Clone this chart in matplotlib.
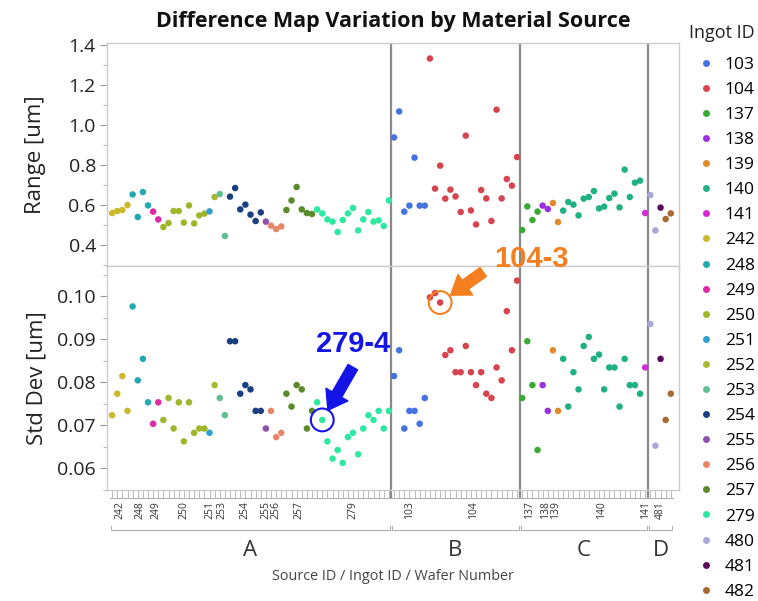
import matplotlib.pyplot as plt
import numpy as np
from matplotlib.lines import Line2D

plt.rcParams['font.family'] = ['Open Sans', 'DejaVu Sans']

# ===== Daten (Reihenfolge wie auf der x-Achse) =====
ingots = ['242', '248', '249', '250', '251', '252', '253', '254', '255', '256', '257', '279',
          '103', '104', '137', '138', '139', '140', '141', '480', '481', '482']
n_wafers = [4, 4, 2, 9, 1, 1, 2, 7, 1, 3, 6, 15, 7, 18, 4, 2, 2, 16, 1, 2, 1, 2]
source_ids = ['A'] * 12 + ['B'] * 2 + ['C'] * 5 + ['D'] * 3
colors = ['#c9b92c', '#22a9b2', '#dd2aa5', '#9fb52b', '#2f9fd0', '#a9b832', '#5fbf90',
          '#1a3f80', '#9050b0', '#e8866a', '#5a8a2a', '#2ee8a2',
          '#4472e0', '#d5444f', '#3aaa35', '#9b30e0', '#e08a2c', '#20b083', '#d52ad5',
          '#a8a8d8', '#5a0a5a', '#a86a30']
hidden_labels = ['252', '480', '482']

range_um = [
    0.56, 0.57, 0.575, 0.60,                      # 242
    0.653, 0.54, 0.665, 0.598,                    # 248
    0.567, 0.528,                                 # 249
    0.49, 0.51, 0.57, 0.57, 0.512, 0.598, 0.508, 0.548, 0.557,  # 250
    0.568,                                        # 251
    0.64,                                         # 252
    0.655, 0.445,                                 # 253
    0.642, 0.685, 0.578, 0.602, 0.552, 0.52, 0.563,  # 254
    0.517,                                        # 255
    0.497, 0.48, 0.493,                           # 256
    0.575, 0.623, 0.69, 0.578, 0.56, 0.555,       # 257
    0.578, 0.558, 0.528, 0.517, 0.465, 0.525, 0.558, 0.585, 0.473, 0.528,
    0.565, 0.517, 0.523, 0.495, 0.623,            # 279
    0.938, 1.068, 0.567, 0.597, 0.837, 0.597, 0.597,  # 103
    1.333, 0.682, 0.797, 0.632, 0.677, 0.643, 0.565, 0.947, 0.573, 0.503,
    0.675, 0.633, 0.52, 1.077, 0.633, 0.73, 0.697, 0.84,  # 104
    0.475, 0.593, 0.525, 0.567,                   # 137
    0.597, 0.58,                                  # 138
    0.61, 0.515,                                  # 139
    0.572, 0.615, 0.602, 0.548, 0.632, 0.64, 0.67, 0.583, 0.592, 0.635,
    0.657, 0.588, 0.777, 0.64, 0.712, 0.722,      # 140
    0.56,                                         # 141
    0.65, 0.473,                                  # 480
    0.587,                                        # 481
    0.53, 0.558,                                  # 482
]

std_um = [
    0.0723, 0.0773, 0.0814, 0.0733,               # 242
    0.0976, 0.0804, 0.0854, 0.0753,               # 248
    0.0703, 0.0753,                               # 249
    0.0712, 0.0763, 0.0692, 0.0753, 0.0662, 0.0753, 0.0682, 0.0692, 0.0692,  # 250
    0.0682,                                       # 251
    0.0793,                                       # 252
    0.0763, 0.0723,                               # 253
    0.0895, 0.0895, 0.0773, 0.0793, 0.0783, 0.0733, 0.0733,  # 254
    0.0692,                                       # 255
    0.0733, 0.0672, 0.0682,                       # 256
    0.0773, 0.0743, 0.0793, 0.0783, 0.0692, 0.0733,  # 257
    0.0753, 0.0712, 0.0662, 0.0622, 0.0642, 0.0612, 0.0672, 0.0682, 0.0632, 0.0692,
    0.0723, 0.0712, 0.0733, 0.0692, 0.0733,       # 279
    0.0814, 0.0874, 0.0692, 0.0733, 0.0733, 0.0703, 0.0763,  # 103
    0.0997, 0.1007, 0.0985, 0.0863, 0.0874, 0.0823, 0.0823, 0.0884, 0.0823, 0.0793,
    0.0823, 0.0773, 0.0763, 0.0834, 0.0804, 0.0965, 0.0874, 0.1036,  # 104
    0.0763, 0.0895, 0.0793, 0.0642,               # 137
    0.0793, 0.0733,                               # 138
    0.0874, 0.0733,                               # 139
    0.0854, 0.0743, 0.0823, 0.0783, 0.0884, 0.0905, 0.0854, 0.0864, 0.0783, 0.0834,
    0.0834, 0.0743, 0.0854, 0.0793, 0.0793, 0.0773,  # 140
    0.0834,                                       # 141
    0.0935, 0.0652,                               # 480
    0.0854,                                       # 481
    0.0712, 0.0773,                               # 482
]

# hervorgehobene Wafer: (Ingot, Position innerhalb des Ingots, Label, Farbe)
highlights = [('279', 1, '279-4', '#1414e6'), ('104', 2, '104-3', '#f57f1f')]

# ===== Positionen =====
starts = np.concatenate([[0], np.cumsum(n_wafers)[:-1]])
N = int(np.sum(n_wafers))
idx = np.arange(N)
range_um = np.array(range_um)
std_um = np.array(std_um)

# ===== Figur =====
W, H = 758, 601
fig = plt.figure(figsize=(W / 100, H / 100), dpi=100)
L, R = 107 / W, 679 / W
ax1 = fig.add_axes([L, 1 - 266 / H, R - L, (266 - 42.7) / H])
ax2 = fig.add_axes([L, 1 - 490 / H, R - L, (490 - 266) / H])
ax_h = 490 - 266

for ax, vals in [(ax1, range_um), (ax2, std_um)]:
    for s, n, c in zip(starts, n_wafers, colors):
        ax.scatter(idx[s:s + n], vals[s:s + n], s=22, color=c, edgecolors='none', zorder=3)
    ax.set_xlim(-1.0, N + 0.6)
    for sp in ax.spines.values():
        sp.set_color('#cccccc')
        sp.set_linewidth(1.0)
    ax.tick_params(axis='y', which='major', labelsize=14, length=5, color='#999999',
                   labelcolor='#222222', pad=3)
    ax.tick_params(axis='y', which='minor', length=3, color='#aaaaaa')

# Quellen-Trennlinien
src_order = ['A', 'B', 'C', 'D']
src_first = [min(s for s, sid in zip(starts, source_ids) if sid == k) for k in src_order]
src_last = [max(s + n - 1 for s, n, sid in zip(starts, n_wafers, source_ids) if sid == k)
            for k in src_order]
for b in src_first[1:]:
    ax1.axvline(b - 0.5, color='#8a8a8a', lw=1.6, zorder=2)
    ax2.plot([b - 0.5, b - 0.5], [-8 / ax_h, 1], color='#8a8a8a', lw=1.6, zorder=2,
             transform=ax2.get_xaxis_transform(), clip_on=False)

ax1.set_ylim(0.295, 1.412)
ax1.set_yticks(np.arange(0.4, 1.41, 0.2))
ax1.set_yticklabels([f'{v:.1f}' for v in np.arange(0.4, 1.41, 0.2)])
ax1.set_yticks(np.arange(0.3, 1.41, 0.1), minor=True)
ax1.set_xticks([])
ax1.set_ylabel('Range [um]', fontsize=16, color='#222222', labelpad=16)

ax2.set_ylim(0.0549, 0.107)
ax2.set_yticks(np.arange(0.06, 0.1001, 0.01))
ax2.set_yticklabels([f'{v:.2f}' for v in np.arange(0.06, 0.1001, 0.01)])
ax2.set_yticks(np.arange(0.055, 0.106, 0.005), minor=True)
ax2.set_ylabel('Std Dev [um]', fontsize=16, color='#222222', labelpad=7)
ax2.set_xticks(idx)
ax2.tick_params(axis='x', length=5.5, width=0.6, color='#b0b0b0', labelbottom=False)
fig.align_ylabels([ax1, ax2])

# ===== gruppierte x-Achse =====
tr = ax2.get_xaxis_transform()
for s, n, name in zip(starts, n_wafers, ingots):
    ax2.plot([s - 0.4, s + n - 0.6], [-8 / ax_h] * 2, color='#b0b0b0', lw=0.8,
             transform=tr, clip_on=False)
    if name not in hidden_labels:
        ax2.text(s + (n - 1) / 2, -11 / ax_h, name, rotation=90, ha='center', va='top',
                 fontsize=7.5, color='#333333', transform=tr)
for k, a, b in zip(src_order, src_first, src_last):
    ax2.plot([a - 0.3, a - 0.3, b + 0.3, b + 0.3],
             [-36 / ax_h, -40 / ax_h, -40 / ax_h, -36 / ax_h],
             color='#b0b0b0', lw=0.8, transform=tr, clip_on=False)
    ax2.text((a + b) / 2, -60 / ax_h, k, ha='center', va='center', fontsize=16,
             color='#333333', transform=tr)
ax2.text(0.5, -87 / ax_h, 'Source ID / Ingot ID / Wafer Number', ha='center', va='center',
         fontsize=10.4, color='#444444', transform=ax2.transAxes)

# ===== Titel =====
fig.text((L + R) / 2, 1 - 22 / H, 'Difference Map Variation by Material Source',
         ha='center', va='center', fontsize=15.5, fontweight='bold', color='#111111')

# ===== Legende =====
fig.text(689 / W, 1 - 33 / H, 'Ingot ID', ha='left', va='center', fontsize=13,
         color='#222222')
order = sorted(range(len(ingots)), key=lambda i: int(ingots[i]))
handles = [Line2D([], [], marker='o', ls='', markersize=5, color=colors[i],
                  markeredgewidth=0) for i in order]
leg = fig.legend(handles, [ingots[i] for i in order], loc='upper left',
                 bbox_to_anchor=(690 / W, 1 - 48 / H), frameon=False, fontsize=12.5,
                 handlelength=0.8, handletextpad=0.7,
                 labelspacing=0.515, borderpad=0)

# ===== Markierungen =====
for name, k, label, col in highlights:
    i = starts[ingots.index(name)] + k
    x, y = idx[i], std_um[i]
    ax2.scatter([x], [y], s=270, facecolors='none', edgecolors=col, linewidths=1.5, zorder=4)
    if name == '279':
        head, tail, txt = (4, 7), (22, 38), (22, 55)
    else:
        head, tail, txt = (6, 7), (31, 22), (66, 31)
    ax2.annotate('', xy=(x, y), xytext=tail, textcoords='offset points',
                 arrowprops=dict(arrowstyle='simple,head_width=1.4,head_length=1.0,tail_width=0.6',
                                 color=col, mutation_scale=13,
                                 shrinkA=0, shrinkB=np.hypot(*head) * 1.0),
                 annotation_clip=False, zorder=5)
    ax2.annotate(label, xy=(x, y), xytext=txt, textcoords='offset points',
                 ha='center', va='center', fontsize=21, fontweight='bold', color=col,
                 family='Liberation Sans', annotation_clip=False, zorder=6)

fig.savefig('out.png', dpi=100)
